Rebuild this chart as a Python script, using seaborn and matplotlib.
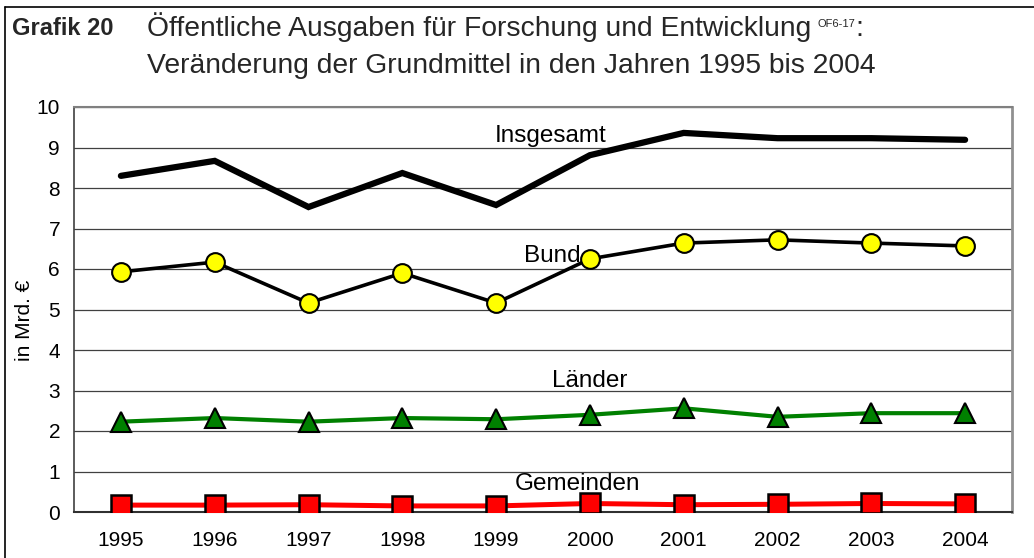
import numpy as np
import pandas as pd
import matplotlib
matplotlib.use("Agg")
import matplotlib.pyplot as plt
from matplotlib.lines import Line2D
import seaborn as sns

# Data (in Mrd. Euro)
years = ["1995", "1996", "1997", "1998", "1999", "2000", "2001", "2002", "2003", "2004"]
insgesamt = [8.30, 8.67, 7.53, 8.37, 7.58, 8.81, 9.36, 9.23, 9.23, 9.19]
bund = [5.93, 6.17, 5.16, 5.90, 5.16, 6.25, 6.64, 6.72, 6.64, 6.57]
laender = [2.23, 2.32, 2.23, 2.32, 2.29, 2.40, 2.56, 2.35, 2.44, 2.44]
gemeinden = [0.17, 0.17, 0.18, 0.15, 0.15, 0.21, 0.18, 0.19, 0.21, 0.20]
y_ticks = [0, 1, 2, 3, 4, 5, 6, 7, 8, 9, 10]

df = pd.DataFrame({"pos": np.arange(len(years)), "Jahr": years,
                   "Insgesamt": insgesamt, "Bund": bund,
                   "Länder": laender, "Gemeinden": gemeinden})

sns.set_style("white")
plt.rcParams["font.family"] = ["Liberation Sans", "DejaVu Sans"]

W, H = 1034, 558
fig = plt.figure(figsize=(W / 100, H / 100), dpi=100)
ax = fig.add_axes([74 / W, 1 - 512 / H, (1012 - 74) / W, (512 - 107) / H])

# Lines
sns.lineplot(data=df, x="pos", y="Insgesamt", ax=ax, color="black", lw=4.5,
             solid_capstyle="round", solid_joinstyle="miter", zorder=3)
sns.lineplot(data=df, x="pos", y="Bund", ax=ax, color="black", lw=2.6,
             marker="o", markersize=13.5, markerfacecolor="#FFFF00",
             markeredgecolor="black", markeredgewidth=1.5, zorder=4)
sns.lineplot(data=df, x="pos", y="Länder", ax=ax, color="#008000", lw=3.0,
             marker="^", markersize=14.5, markerfacecolor="#008000",
             markeredgecolor="black", markeredgewidth=1.5, zorder=4)
sns.lineplot(data=df, x="pos", y="Gemeinden", ax=ax, color="#FF0000", lw=3.6,
             marker="s", markersize=14, markerfacecolor="#FF0000",
             markeredgecolor="black", markeredgewidth=1.8, zorder=4)

# Axes
ax.set_xlim(-0.5, len(years) - 0.5)
ax.set_ylim(0, 10)
ax.set_yticks(y_ticks)
ax.set_xticks(np.arange(len(years)))
ax.set_xticklabels(years)
ax.set_xticks(np.arange(-0.5, len(years)), minor=True)
ax.tick_params(axis="x", which="major", length=0, pad=14, labelsize=15, labelcolor="black")
ax.tick_params(axis="x", which="minor", length=4.5, width=1, color="black", direction="out")
ax.tick_params(axis="y", length=5, width=1, color="black", direction="out", pad=5,
               labelsize=15, labelcolor="black")
ax.set_xlabel("")
ax.set_ylabel("in Mrd. €", fontsize=15, color="black")
ax.yaxis.set_label_coords(-0.043, 0.474)

ax.yaxis.grid(True, color="#404040", lw=0.9)
ax.set_axisbelow(True)
ax.spines["top"].set_color("#808080")
ax.spines["top"].set_linewidth(1.5)
ax.spines["right"].set_color("#909090")
ax.spines["right"].set_linewidth(2)
ax.spines["left"].set_color("#404040")
ax.spines["left"].set_linewidth(1.2)
ax.spines["bottom"].set_color("#303030")
ax.spines["bottom"].set_linewidth(1.5)

# Series labels
label_pos = {"Insgesamt": (4.58, 9.14), "Bund": (4.60, 6.17),
             "Länder": (5.00, 3.09), "Gemeinden": (4.87, 0.54)}
for name, (lx, ly) in label_pos.items():
    ax.text(lx, ly, name, ha="center", va="baseline", fontsize=17.5, color="black", zorder=5)

# Title block
def fx(px):
    return px / W

def fy(py):
    return 1 - py / H

fig.text(fx(12), fy(35), "Grafik 20", fontsize=17, fontweight="bold", va="baseline")
fig.text(fx(147), fy(36), "Öffentliche Ausgaben für Forschung und Entwicklung",
         fontsize=20.3, va="baseline")
fig.text(fx(817), fy(27), "OF6-17", fontsize=8, va="baseline")
fig.text(fx(855.5), fy(36), ":", fontsize=20.3, va="baseline")
fig.text(fx(147), fy(73), "Veränderung der Grundmittel in den Jahren 1995 bis 2004",
         fontsize=20.3, va="baseline")

# Outer frame (left and top edges)
fig.add_artist(Line2D([fx(4.5), fx(4.5)], [0, fy(7)], color="black", lw=1.2))
fig.add_artist(Line2D([fx(4.5), 1], [fy(7), fy(7)], color="black", lw=1.2))

fig.savefig("out.png", dpi=100)
